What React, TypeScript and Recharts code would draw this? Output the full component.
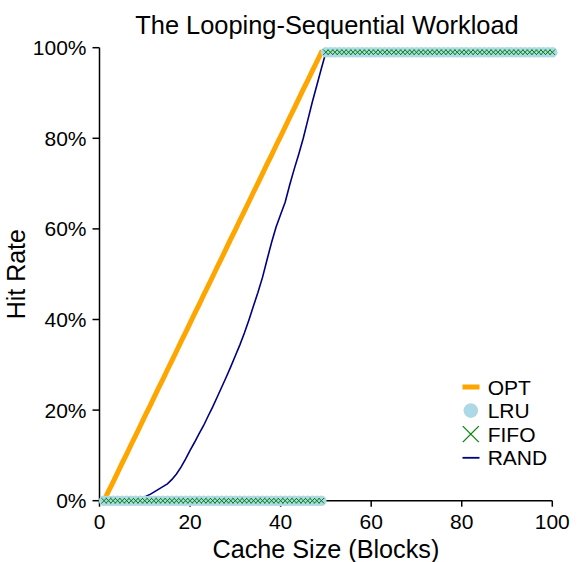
import React from 'react';
import { LineChart, Line, XAxis, YAxis, Legend, Label } from 'recharts';

const SIZES = [
  1, 2, 3, 4, 5, 6, 7, 8, 9, 10,
  11, 12, 13, 14, 15, 16, 17, 18, 19, 20,
  21, 22, 23, 24, 25, 26, 27, 28, 29, 30,
  31, 32, 33, 34, 35, 36, 37, 38, 39, 40,
  41, 42, 43, 44, 45, 46, 47, 48, 49, 50,
  51, 52, 53, 54, 55, 56, 57, 58, 59, 60,
  61, 62, 63, 64, 65, 66, 67, 68, 69, 70,
  71, 72, 73, 74, 75, 76, 77, 78, 79, 80,
  81, 82, 83, 84, 85, 86, 87, 88, 89, 90,
  91, 92, 93, 94, 95, 96, 97, 98, 99, 100,
];

const OPT = [
  0, 2.1, 4.1, 6.2, 8.3, 10.3, 12.4, 14.4, 16.5, 18.6,
  20.6, 22.7, 24.8, 26.8, 28.9, 30.9, 33.0, 35.1, 37.1, 39.2,
  41.3, 43.3, 45.4, 47.4, 49.5, 51.6, 53.6, 55.7, 57.8, 59.8,
  61.9, 63.9, 66.0, 68.1, 70.1, 72.2, 74.3, 76.3, 78.4, 80.4,
  82.5, 84.6, 86.6, 88.7, 90.8, 92.8, 94.9, 96.9, 99, 99,
  99, 99, 99, 99, 99, 99, 99, 99, 99, 99,
  99, 99, 99, 99, 99, 99, 99, 99, 99, 99,
  99, 99, 99, 99, 99, 99, 99, 99, 99, 99,
  99, 99, 99, 99, 99, 99, 99, 99, 99, 99,
  99, 99, 99, 99, 99, 99, 99, 99, 99, 99,
];

const LRU = [
  0, 0, 0, 0, 0, 0, 0, 0, 0, 0,
  0, 0, 0, 0, 0, 0, 0, 0, 0, 0,
  0, 0, 0, 0, 0, 0, 0, 0, 0, 0,
  0, 0, 0, 0, 0, 0, 0, 0, 0, 0,
  0, 0, 0, 0, 0, 0, 0, 0, 0, 99,
  99, 99, 99, 99, 99, 99, 99, 99, 99, 99,
  99, 99, 99, 99, 99, 99, 99, 99, 99, 99,
  99, 99, 99, 99, 99, 99, 99, 99, 99, 99,
  99, 99, 99, 99, 99, 99, 99, 99, 99, 99,
  99, 99, 99, 99, 99, 99, 99, 99, 99, 99,
];

const FIFO = [
  0, 0, 0, 0, 0, 0, 0, 0, 0, 0,
  0, 0, 0, 0, 0, 0, 0, 0, 0, 0,
  0, 0, 0, 0, 0, 0, 0, 0, 0, 0,
  0, 0, 0, 0, 0, 0, 0, 0, 0, 0,
  0, 0, 0, 0, 0, 0, 0, 0, 0, 99,
  99, 99, 99, 99, 99, 99, 99, 99, 99, 99,
  99, 99, 99, 99, 99, 99, 99, 99, 99, 99,
  99, 99, 99, 99, 99, 99, 99, 99, 99, 99,
  99, 99, 99, 99, 99, 99, 99, 99, 99, 99,
  99, 99, 99, 99, 99, 99, 99, 99, 99, 99,
];

const RAND = [
  0, 0, 0, 0, 0, 0, 0.1, 0.2, 0.4, 0.8,
  1.3, 1.9, 2.5, 3.1, 3.7, 4.7, 5.9, 7.4, 9.2, 11.1,
  12.9, 14.8, 16.6, 18.7, 20.7, 22.9, 25.1, 27.3, 29.6, 32.0,
  34.4, 37.0, 39.9, 43.0, 46.0, 49.3, 53.2, 57.0, 60.4, 63.2,
  65.9, 69.7, 73.2, 76.5, 80.0, 84.0, 88.0, 91.7, 95.4, 99,
  99, 99, 99, 99, 99, 99, 99, 99, 99, 99,
  99, 99, 99, 99, 99, 99, 99, 99, 99, 99,
  99, 99, 99, 99, 99, 99, 99, 99, 99, 99,
  99, 99, 99, 99, 99, 99, 99, 99, 99, 99,
  99, 99, 99, 99, 99, 99, 99, 99, 99, 99,
];

const X_TICKS = [0, 20, 40, 60, 80, 100];
const Y_TICKS = [0, 20, 40, 60, 80, 100];

const SERIES_NAMES = ['OPT', 'LRU', 'FIFO', 'RAND'];

const TITLE = 'The Looping-Sequential Workload';
const X_LABEL = 'Cache Size (Blocks)';
const Y_LABEL = 'Hit Rate';

const COLORS: Record<string, string> = {
  OPT: '#FFA500',
  LRU: '#ADD8E6',
  FIFO: '#008000',
  RAND: '#000080',
};

const FONT = '"Liberation Sans", Arial, Helvetica, sans-serif';

const data = SIZES.map((s, i) => ({
  size: s,
  OPT: OPT[i],
  LRU: LRU[i],
  FIFO: FIFO[i],
  RAND: RAND[i],
}));

const CircleDot = (props: any) => {
  const { cx, cy, index } = props;
  if (cx == null || cy == null) return <g key={`c${index}`} />;
  return <circle key={`c${index}`} cx={cx} cy={cy} r={5.2} fill={COLORS.LRU} />;
};

const CrossDot = (props: any) => {
  const { cx, cy, index } = props;
  if (cx == null || cy == null) return <g key={`x${index}`} />;
  const h = 2.7;
  return (
    <path
      key={`x${index}`}
      d={`M${cx - h},${cy - h}L${cx + h},${cy + h}M${cx - h},${cy + h}L${cx + h},${cy - h}`}
      stroke={COLORS.FIFO}
      strokeWidth={1}
      fill="none"
    />
  );
};

const renderLegend = () => (
  <svg width={130} height={100} style={{ display: 'block', overflow: 'visible' }}>
    {SERIES_NAMES.map((name, i) => {
      const cy = 17 + i * 23.6;
      let icon: React.ReactNode = null;
      if (name === 'OPT') {
        icon = <line x1={7.5} x2={24.5} y1={cy} y2={cy} stroke={COLORS.OPT} strokeWidth={5} />;
      } else if (name === 'LRU') {
        icon = <circle cx={15.8} cy={cy} r={7.3} fill={COLORS.LRU} />;
      } else if (name === 'FIFO') {
        const h = 8;
        icon = (
          <path
            d={`M${15.8 - h},${cy - h}L${15.8 + h},${cy + h}M${15.8 - h},${cy + h}L${15.8 + h},${cy - h}`}
            stroke={COLORS.FIFO}
            strokeWidth={1.2}
            fill="none"
          />
        );
      } else {
        icon = <line x1={7.5} x2={24.5} y1={cy} y2={cy} stroke={COLORS.RAND} strokeWidth={1.8} />;
      }
      return (
        <g key={name}>
          {icon}
          <text x={32.7} y={cy + 7.5} fontSize={21} fill="#000" fontFamily={FONT}>
            {name}
          </text>
        </g>
      );
    })}
  </svg>
);

export default function App() {
  return (
    <div
      style={{
        position: 'absolute',
        left: 0,
        top: 0,
        width: 588,
        height: 562,
        background: '#fff',
        fontFamily: FONT,
      }}
    >
      <div
        style={{
          position: 'absolute',
          left: 27,
          top: 12.6,
          width: 600,
          textAlign: 'center',
          fontSize: 25.4,
          lineHeight: 1,
          color: '#000',
          fontFamily: FONT,
          zIndex: 2,
        }}
      >
        {TITLE}
      </div>
      <LineChart
        width={588}
        height={562}
        data={data}
        margin={{ top: 47.7, right: 35.7, bottom: 0, left: 0 }}
      >
        <XAxis
          dataKey="size"
          type="number"
          domain={[0, 100]}
          ticks={X_TICKS}
          interval={0}
          height={61.3}
          tickSize={6}
          tickMargin={7}
          stroke="#000"
          strokeWidth={1.5}
          tick={{ fill: '#000', fontSize: 21, fontFamily: FONT }}
        >
          <Label
            value={X_LABEL}
            position="insideBottom"
            offset={4}
            fontSize={25.2}
            fill="#000"
            fontFamily={FONT}
          />
        </XAxis>
        <YAxis
          type="number"
          domain={[0, 100]}
          ticks={Y_TICKS}
          interval={0}
          width={99.5}
          tickSize={7}
          tickMargin={6}
          stroke="#000"
          strokeWidth={1.5}
          tickFormatter={(v: number) => `${v}%`}
          tick={{ fill: '#000', fontSize: 21, fontFamily: FONT }}
        >
          <Label
            content={() => (
              <text
                x={25}
                y={274.2}
                transform="rotate(-90 25 274.2)"
                textAnchor="middle"
                fontSize={25}
                fill="#000"
                fontFamily={FONT}
              >
                {Y_LABEL}
              </text>
            )}
          />
        </YAxis>
        <Legend
          layout="horizontal"
          verticalAlign="middle"
          align="center"
          content={renderLegend}
          wrapperStyle={{ position: 'absolute', left: 455, top: 370, width: 130, height: 100 }}
        />
        <Line
          name="OPT"
          dataKey="OPT"
          type="linear"
          stroke={COLORS.OPT}
          strokeWidth={5}
          dot={false}
          activeDot={false}
          isAnimationActive={false}
        />
        <Line
          name="LRU"
          dataKey="LRU"
          type="linear"
          stroke="none"
          strokeWidth={0}
          dot={CircleDot}
          activeDot={false}
          isAnimationActive={false}
        />
        <Line
          name="FIFO"
          dataKey="FIFO"
          type="linear"
          stroke="none"
          strokeWidth={0}
          dot={CrossDot}
          activeDot={false}
          isAnimationActive={false}
        />
        <Line
          name="RAND"
          dataKey="RAND"
          type="linear"
          stroke={COLORS.RAND}
          strokeWidth={1.6}
          dot={false}
          activeDot={false}
          isAnimationActive={false}
        />
      </LineChart>
    </div>
  );
}
